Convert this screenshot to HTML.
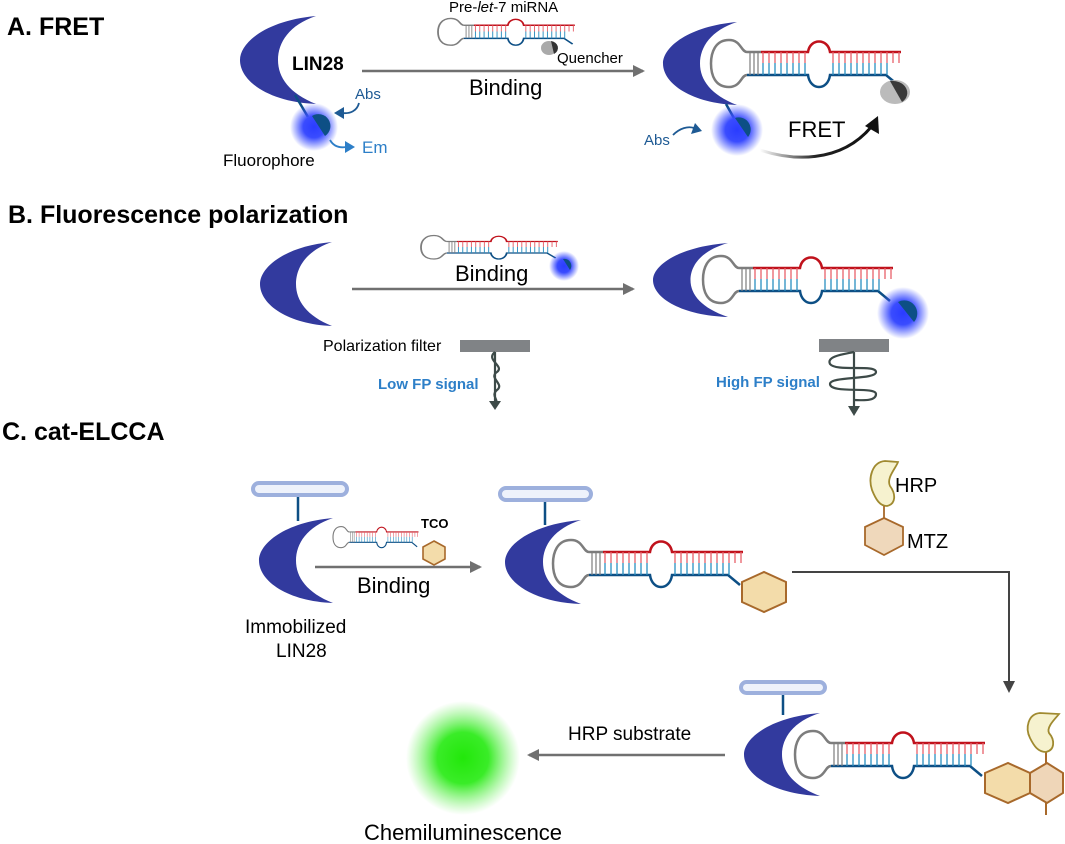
<!DOCTYPE html>
<html><head><meta charset="utf-8"><style>
html,body{margin:0;padding:0;background:#fff}
svg{display:block}
text{font-family:"Liberation Sans",Arial,sans-serif}
</style></head><body>
<svg width="1065" height="844" viewBox="0 0 1065 844" xmlns="http://www.w3.org/2000/svg">
<defs>
<radialGradient id="glow"><stop offset="0" stop-color="#2a3cff"/><stop offset="0.45" stop-color="#3a4cff"/><stop offset="1" stop-color="#3a4cff" stop-opacity="0"/></radialGradient>
<radialGradient id="green"><stop offset="0" stop-color="#22e80a"/><stop offset="0.45" stop-color="#3aec28"/><stop offset="1" stop-color="#70f060" stop-opacity="0"/></radialGradient>
<linearGradient id="fretg" x1="0" x2="1"><stop offset="0" stop-color="#222" stop-opacity="0"/><stop offset="0.5" stop-color="#222"/><stop offset="1" stop-color="#111"/></linearGradient>
<marker id="ah" markerWidth="12" markerHeight="12" refX="10" refY="6" orient="auto" markerUnits="userSpaceOnUse"><path d="M0,0 L12,6 L0,12 Z" fill="#707070"/></marker>
<g id="rna">
<path d="M36,11 C30,11 30,-1 18,-1 C4,-1 0,12 0,22.5 C0,34 4,46 18,46 C30,46 30,34 36,34" fill="none" stroke="#7d7d7d" stroke-width="2.5"/>
<path d="M36,11 H50" stroke="#7d7d7d" stroke-width="2.5"/>
<path d="M36,34 H50" stroke="#0d4f85" stroke-width="2.5"/>
<path d="M50,11 H97 C99,-3 117,-3 119,11 H190" fill="none" stroke="#c0121c" stroke-width="2.5"/>
<path d="M50,34 H97 C99,50 117,50 119,34 H175 L187,44" fill="none" stroke="#0d4f85" stroke-width="2.5"/>
<g stroke="#7d7d7d" stroke-width="1.2"><path d="M39,11V34M43,11V34M47,11V34"/></g>
<g stroke="#e8606a" stroke-width="1.3"><path d="M52,11V22M58,11V22M64,11V22M70,11V22M76,11V22M82,11V22M88,11V22M94,11V22M122,11V22M128,11V22M134,11V22M140,11V22M146,11V22M152,11V22M158,11V22M164,11V22M170,11V22M176,11V22M182,11V22M188,11V22"/></g>
<g stroke="#2a8fc0" stroke-width="1.3"><path d="M52,34V22M58,34V22M64,34V22M70,34V22M76,34V22M82,34V22M88,34V22M94,34V22M122,34V22M128,34V22M134,34V22M140,34V22M146,34V22M152,34V22M158,34V22M164,34V22M170,34V22M176,34V22"/></g>
</g>
<path id="lin" d="M0,0 C-65,5 -100,30 -100,50 C-100,75 -60,98 0,100 C-35,88 -50,70 -50,50 C-50,30 -35,10 0,0 Z" fill="#323a9e"/>
</defs>

<!-- A -->
<text x="7" y="35" font-size="25" font-weight="bold">A. FRET</text>
<use href="#lin" transform="translate(316,16) scale(0.76,0.88)"/>
<text x="292" y="70" font-size="19" font-weight="bold">LIN28</text>
<line x1="295" y1="95" x2="308" y2="117" stroke="#0d4f85" stroke-width="2.5"/>
<circle cx="314" cy="127" r="24" fill="url(#glow)"/>
<path d="M312,116 A11,11 0 0 1 325,136 Z" fill="#0d4f85"/>
<text x="355" y="99" font-size="15" fill="#1e5a94">Abs</text>
<path d="M359,103 C357,111 350,114 342,113" fill="none" stroke="#1e5a94" stroke-width="1.8"/>
<path d="M334,113 L344,107 L344,119 Z" fill="#1e5a94"/>
<path d="M330,140 C334,147 340,148 346,147" fill="none" stroke="#2d7fc8" stroke-width="1.8"/>
<path d="M355,147 L345,141 L345,153 Z" fill="#2d7fc8"/>
<text x="362" y="153" font-size="17" fill="#2d7fc8">Em</text>
<text x="223" y="166" font-size="17">Fluorophore</text>
<line x1="362" y1="71" x2="643" y2="71" stroke="#707070" stroke-width="2.5" marker-end="url(#ah)"/>
<text x="469" y="95" font-size="22">Binding</text>
<text x="449" y="12" font-size="15">Pre-<tspan font-style="italic">let</tspan>-7 miRNA</text>
<use href="#rna" transform="translate(438,19) scale(0.72,0.57)"/>
<ellipse cx="549" cy="48" rx="8" ry="7" fill="#aaa"/><path d="M551,41 A8,7 0 0 1 554,54 Z" fill="#333"/>
<text x="557" y="63" font-size="15">Quencher</text>
<use href="#lin" transform="translate(737,22) scale(0.74,0.83)"/>
<use href="#rna" transform="translate(711,41)"/>
<ellipse cx="895" cy="92" rx="15" ry="12" fill="#bbb"/><path d="M890,81 A15,12 0 0 1 902,102 Z" fill="#3a3a3a"/>
<line x1="726" y1="104" x2="735" y2="120" stroke="#0d4f85" stroke-width="2.5"/>
<circle cx="737" cy="130" r="26" fill="url(#glow)"/>
<path d="M735,118 A12,12 0 0 1 748,137 Z" fill="#0d4f85"/>
<text x="644" y="145" font-size="15" fill="#1e5a94">Abs</text>
<path d="M673,135 C680,128 688,126 694,128" fill="none" stroke="#1e5a94" stroke-width="1.8"/>
<path d="M702,131 L691,134 L695,123 Z" fill="#1e5a94"/>
<text x="788" y="137" font-size="22">FRET</text>
<path d="M760,150 C790,160 840,165 872,126" fill="none" stroke="url(#fretg)" stroke-width="3"/>
<path d="M878,116 L879,134 L865,126 Z" fill="#111"/>

<!-- B -->
<text x="8" y="223" font-size="25" font-weight="bold">B.  Fluorescence polarization</text>
<use href="#lin" transform="translate(332,242) scale(0.72,0.84)"/>
<line x1="352" y1="289" x2="633" y2="289" stroke="#707070" stroke-width="2.5" marker-end="url(#ah)"/>
<text x="455" y="281" font-size="22">Binding</text>
<use href="#rna" transform="translate(421,236) scale(0.72,0.5)"/>
<circle cx="564" cy="266" r="15" fill="url(#glow)"/>
<path d="M563,259 A7,7 0 0 1 570,270 Z" fill="#0d4f85"/>
<use href="#lin" transform="translate(728,243) scale(0.75,0.74)"/>
<use href="#rna" transform="translate(703,257)"/>
<circle cx="903" cy="313" r="26" fill="url(#glow)"/>
<path d="M898,302 A13,13 0 0 1 914,322 Z" fill="#0d4f85"/>
<text x="323" y="351" font-size="16">Polarization filter</text>
<rect x="460" y="340" width="70" height="12" fill="#808386"/>
<path d="M495,352 C485,360 505,366 497,372 C488,378 505,384 497,390 C490,396 500,400 495,404" fill="none" stroke="#3d4a48" stroke-width="2.2"/>
<line x1="495" y1="352" x2="495" y2="404" stroke="#3d4a48" stroke-width="2.2"/>
<path d="M489,401 L501,401 L495,410 Z" fill="#3d4a48"/>
<text x="378" y="389" font-size="15" font-weight="bold" fill="#2d7fc8">Low FP signal</text>
<rect x="819" y="339" width="70" height="13" fill="#808386"/>
<line x1="854" y1="352" x2="854" y2="408" stroke="#3d4a48" stroke-width="2.2"/>
<path d="M854,352 C845,354 826,356 830,364 C836,372 876,364 876,372 C876,380 830,376 830,384 C830,394 876,386 876,394 C876,402 860,400 854,400" fill="none" stroke="#3d4a48" stroke-width="2.2"/>
<path d="M848,406 L860,406 L854,416 Z" fill="#3d4a48"/>
<text x="716" y="387" font-size="15" font-weight="bold" fill="#2d7fc8">High FP signal</text>

<!-- C -->
<text x="2" y="440" font-size="25" font-weight="bold">C.  cat-ELCCA</text>
<rect x="253" y="483" width="94" height="12" rx="6" fill="#eef2fb" stroke="#9db0dd" stroke-width="4"/>
<line x1="298" y1="497" x2="298" y2="521" stroke="#0d4f85" stroke-width="2.5"/>
<use href="#lin" transform="translate(333,518) scale(0.74,0.85)"/>
<use href="#rna" transform="translate(333,527) scale(0.45,0.45)"/>
<text x="421" y="528" font-size="13" font-weight="bold">TCO</text>
<path d="M434,541 l11,6 v12 l-11,6 l-11,-6 v-12 Z" fill="#f3dcaa" stroke="#a8692b" stroke-width="1.6"/>
<line x1="315" y1="567" x2="480" y2="567" stroke="#707070" stroke-width="2.5" marker-end="url(#ah)"/>
<text x="357" y="593" font-size="22">Binding</text>
<text x="245" y="633" font-size="19">Immobilized</text>
<text x="276" y="657" font-size="19">LIN28</text>
<rect x="500" y="488" width="91" height="12" rx="6" fill="#eef2fb" stroke="#9db0dd" stroke-width="4"/>
<line x1="545" y1="502" x2="545" y2="525" stroke="#0d4f85" stroke-width="2.5"/>
<use href="#lin" transform="translate(581,520) scale(0.76,0.84)"/>
<use href="#rna" transform="translate(553,541)"/>
<path d="M742,582 L764,572 L786,582 V602 L764,612 L742,602 Z" fill="#f3dcaa" stroke="#a8692b" stroke-width="2"/>
<path d="M885,461 C872,462 868,478 872,490 C876,500 880,506 887,506 C896,504 896,494 890,486 C886,478 896,468 898,462 Z" fill="#f6f2cf" stroke="#a08a30" stroke-width="1.8"/>
<text x="895" y="492" font-size="20">HRP</text>
<line x1="884" y1="506" x2="884" y2="518" stroke="#a8692b" stroke-width="1.8"/>
<path d="M884,518 L903,527 V545 L884,555 L865,545 V527 Z" fill="#efd8bb" stroke="#a8692b" stroke-width="1.8"/>
<text x="907" y="548" font-size="20">MTZ</text>
<polyline points="792,572 1009,572 1009,683" fill="none" stroke="#444" stroke-width="2"/>
<path d="M1003,681 L1015,681 L1009,693 Z" fill="#444"/>
<rect x="741" y="682" width="84" height="11" rx="5.5" fill="#eef2fb" stroke="#9db0dd" stroke-width="4"/>
<line x1="783" y1="695" x2="783" y2="715" stroke="#0d4f85" stroke-width="2.5"/>
<use href="#lin" transform="translate(820,713) scale(0.76,0.83)"/>
<use href="#rna" transform="translate(795,732)"/>
<path d="M985,773 L1008,763 L1030,773 V793 L1008,803 L985,793 Z" fill="#f3dcaa" stroke="#a8692b" stroke-width="2"/>
<path d="M1030,773 L1047,763 L1063,773 V793 L1047,803 L1030,793 Z" fill="#efd6b8" stroke="#a8692b" stroke-width="2"/>
<line x1="1046" y1="763" x2="1046" y2="750" stroke="#a8692b" stroke-width="2"/>
<line x1="1046" y1="803" x2="1046" y2="815" stroke="#a8692b" stroke-width="2"/>
<path d="M1040,713 C1028,714 1025,728 1030,738 C1034,746 1038,752 1046,752 C1055,750 1055,740 1049,733 C1046,727 1056,718 1059,714 Z" fill="#f6f2cf" stroke="#a08a30" stroke-width="1.8"/>
<line x1="725" y1="755" x2="529" y2="755" stroke="#707070" stroke-width="2.5" marker-end="url(#ah)"/>
<text x="568" y="740" font-size="19">HRP substrate</text>
<circle cx="463" cy="758" r="57" fill="url(#green)"/>
<text x="463" y="840" font-size="22" text-anchor="middle">Chemiluminescence</text>
</svg>
</body></html>
